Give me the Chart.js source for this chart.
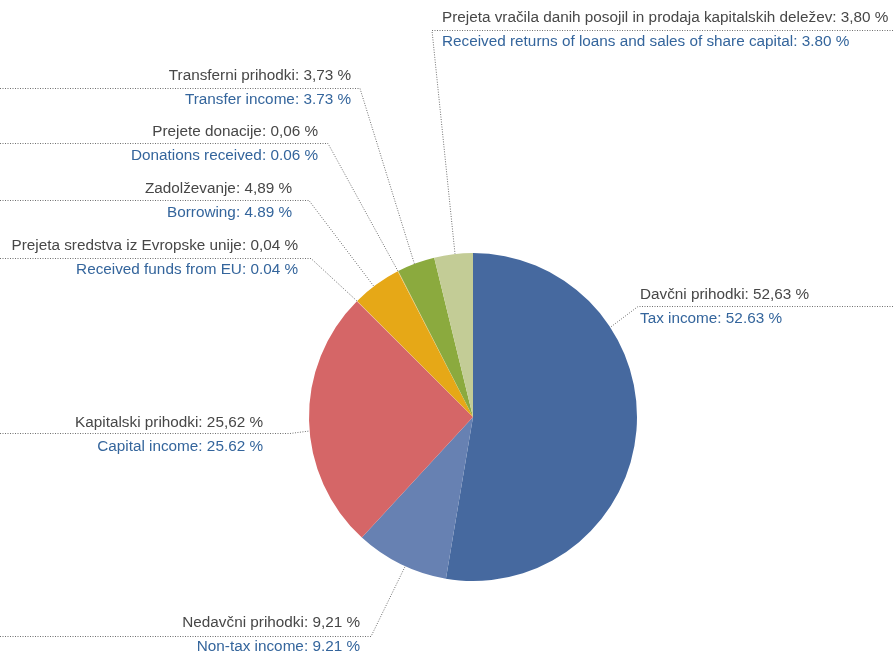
<!DOCTYPE html>
<html>
<head>
<meta charset="utf-8">
<script src="https://cdn.jsdelivr.net/npm/chart.js@4"></script>
<style>
  html, body { margin: 0; padding: 0; background: #fff; }
  #wrap { width: 893px; height: 654px; }
</style>
</head>
<body>
<div id="wrap"><canvas id="revenueChart" width="893" height="654"></canvas></div>
<script>
const labelsSl = ['Davčni prihodki', 'Nedavčni prihodki', 'Kapitalski prihodki', 'Prejeta sredstva iz Evropske unije',
  'Zadolževanje', 'Prejete donacije', 'Transferni prihodki', 'Prejeta vračila danih posojil in prodaja kapitalskih deležev'];
const labelsEn = ['Tax income', 'Non-tax income', 'Capital income', 'Received funds from EU',
  'Borrowing', 'Donations received', 'Transfer income', 'Received returns of loans and sales of share capital'];
const shares = [52.63, 9.21, 25.62, 0.04, 4.89, 0.06, 3.73, 3.80];
const colors = ['#46699f', '#6781b2', '#d56667', '#e8a3a5', '#e6a817', '#f2be62', '#8baa3e', '#c3cc96'];

// label placement: text anchor x, first row y, alignment, corner of leader, where on the slice the leader ends
const labelLayout = [
  { x: 640, y: 295, align: 'left',  cx: 638, cy: 306, edge: 893, frac: 0.30 },
  { x: 360, y: 623, align: 'right', cx: 371, cy: 636, edge: 0, frac: 0.45 },
  { x: 263, y: 423, align: 'right', cx: 290, cy: 433, edge: 0, frac: 0.46 },
  { x: 298, y: 246, align: 'right', cx: 311, cy: 258, edge: 0, frac: 0.5 },
  { x: 292, y: 189, align: 'right', cx: 309, cy: 200, edge: 0, frac: 0.44 },
  { x: 318, y: 132, align: 'right', cx: 328, cy: 143, edge: 0, frac: 0.5 },
  { x: 351, y: 76,  align: 'right', cx: 360, cy: 88,  edge: 0, frac: 0.46 },
  { x: 442, y: 18,  align: 'left',  cx: 432, cy: 30,  edge: 893, frac: 0.54 }
];

const fmtSl = v => v.toFixed(2).replace('.', ',') + ' %';
const fmtEn = v => v.toFixed(2) + ' %';

const leaderLabels = {
  id: 'leaderLabels',
  afterDatasetsDraw(chart) {
    const ctx = chart.ctx;
    const arcs = chart.getDatasetMeta(0).data;
    ctx.save();
    arcs.forEach((arc, i) => {
      const L = labelLayout[i];
      const p = arc.getProps(['x', 'y', 'startAngle', 'endAngle', 'outerRadius'], true);
      const a = p.startAngle + (p.endAngle - p.startAngle) * L.frac;
      const ex = p.x + Math.cos(a) * p.outerRadius;
      const ey = p.y + Math.sin(a) * p.outerRadius;

      ctx.strokeStyle = '#6f6f6f';
      ctx.lineWidth = 1;
      ctx.setLineDash([1, 1.5]);
      ctx.beginPath();
      ctx.moveTo(L.edge, L.cy + 0.5);
      ctx.lineTo(L.cx, L.cy + 0.5);
      ctx.lineTo(ex, ey);
      ctx.stroke();
      ctx.setLineDash([]);

      ctx.font = '15.3px "Liberation Sans", Arial, sans-serif';
      ctx.textAlign = L.align;
      ctx.textBaseline = 'middle';
      ctx.fillStyle = '#474747';
      ctx.fillText(labelsSl[i] + ': ' + fmtSl(shares[i]), L.x, L.y);
      ctx.fillStyle = '#34659c';
      ctx.fillText(labelsEn[i] + ': ' + fmtEn(shares[i]), L.x, L.y + 24);
    });
    ctx.restore();
  }
};

new Chart(document.getElementById('revenueChart'), {
  type: 'pie',
  data: {
    labels: labelsSl,
    datasets: [{
      data: shares,
      backgroundColor: colors,
      borderWidth: 0
    }]
  },
  options: {
    responsive: false,
    animation: false,
    layout: { padding: { left: 309, right: 256, top: 253, bottom: 73 } },
    plugins: {
      legend: { display: false },
      tooltip: { enabled: false }
    }
  },
  plugins: [leaderLabels]
});
</script>
</body>
</html>
